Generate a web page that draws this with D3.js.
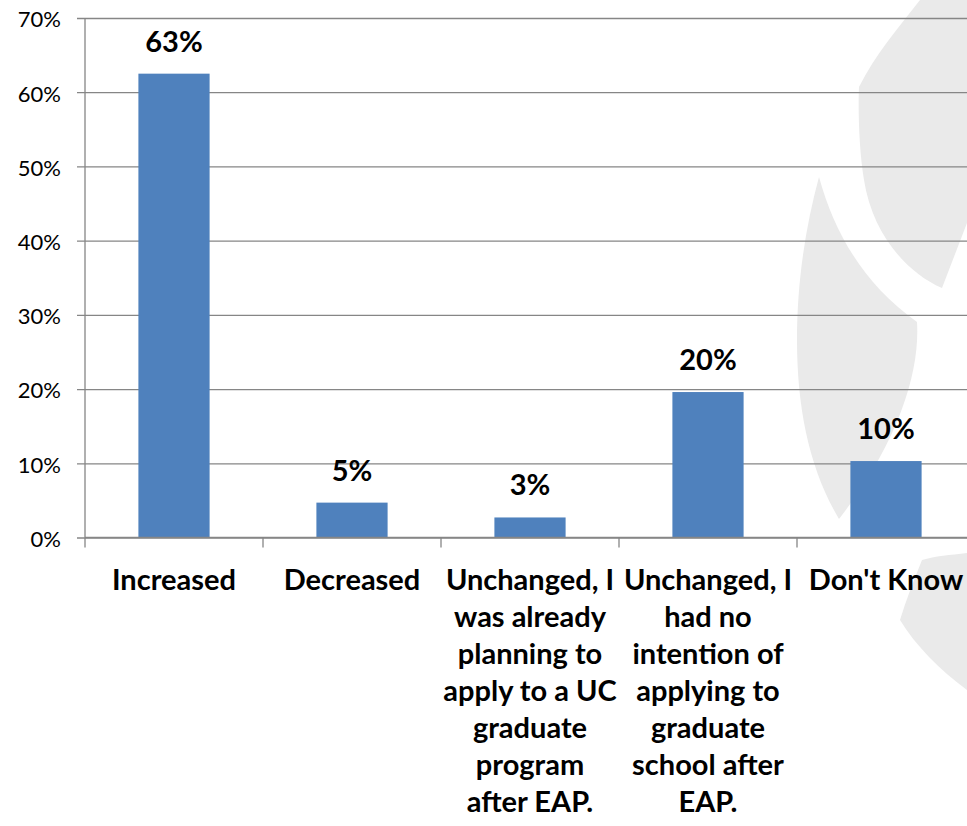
<!DOCTYPE html>
<html>
<head>
<meta charset="utf-8">
<script src="https://cdn.jsdelivr.net/npm/d3@7/dist/d3.min.js"></script>
<style>
  html, body { margin: 0; padding: 0; background: #ffffff; }
  svg { display: block; }
</style>
</head>
<body>
<svg id="chart" width="967" height="826"></svg>
<script>
// ---- data ----
const categories = ["Increased", "Decreased", "Unchanged, I was already planning to apply to a UC graduate program after EAP.", "Unchanged, I had no intention of applying to graduate school after EAP.", "Don't Know"];
const categoryLines = [
  ["Increased"],
  ["Decreased"],
  ["Unchanged, I", "was already", "planning to", "apply to a UC", "graduate", "program", "after EAP."],
  ["Unchanged, I", "had no", "intention of", "applying to", "graduate", "school after", "EAP."],
  ["Don't Know"]
];
const values = [0.625, 0.047, 0.027, 0.196, 0.103];
const valueLabels = ["63%", "5%", "3%", "20%", "10%"];
const yTicks = [0, 0.1, 0.2, 0.3, 0.4, 0.5, 0.6, 0.7];
const yTickLabels = ["0%", "10%", "20%", "30%", "40%", "50%", "60%", "70%"];

(function () {
// ---- layout ----
const svg = d3.select("#chart");
const pLeft = 85, pRight = 975, pTop = 18, pBottom = 537.5;
const x = d3.scaleBand().domain(categories).range([pLeft, pRight]).paddingInner(0.6).paddingOuter(0.3);
const y = d3.scaleLinear().domain([0, 0.7]).range([pBottom, pTop]);
const step = x.step();

// ---- watermark (background decoration) ----
const wm = svg.append("g").attr("fill", "#eaeaea");
wm.append("path").attr("d", "M920,0 L967,0 L967,223 L942,288 C905,272 872,232 864,180 C859,150 858,110 859,87 C875,55 898,28 920,0 Z");
wm.append("path").attr("d", "M819,177 C835,235 865,285 917,322 C920,370 900,440 839,519 C810,470 797,410 797,340 C797,280 806,225 819,177 Z");
wm.append("path").attr("d", "M922,560 C935,556 950,555 967,553 L967,690 C940,670 915,645 900,620 C906,600 914,580 922,560 Z");

// ---- gridlines + y ticks ----
const yAxis = d3.axisLeft(y).tickValues(yTicks).tickSize(-(pRight - pLeft)).tickSizeOuter(0)
  .tickFormat((d, i) => yTickLabels[i]);
const gy = svg.append("g").attr("transform", `translate(${pLeft},0)`).call(yAxis);
gy.select(".domain").remove();
gy.selectAll(".tick line").attr("x1", -8).attr("stroke", "#868686").attr("stroke-width", 1.3);
gy.selectAll(".tick text")
  .attr("x", -24).attr("y", 1).attr("dy", "0.36em")
  .attr("font-family", "Lato").attr("font-size", 22).attr("fill", "#000")
  .attr("text-anchor", "end");

// y axis line
svg.append("line").attr("x1", pLeft).attr("x2", pLeft).attr("y1", y(0.7)).attr("y2", y(0))
  .attr("stroke", "#868686").attr("stroke-width", 1.3);

// ---- bars ----
svg.append("g").selectAll("rect").data(values).join("rect")
  .attr("x", (d, i) => x(categories[i]))
  .attr("width", x.bandwidth())
  .attr("y", d => y(d))
  .attr("height", d => y(0) - y(d))
  .attr("fill", "#4f81bd");

// x axis line and ticks
svg.append("line").attr("x1", pLeft).attr("x2", pRight).attr("y1", y(0)).attr("y2", y(0))
  .attr("stroke", "#868686").attr("stroke-width", 1.3);
const boundaries = d3.range(categories.length + 1).map(i => pLeft + i * step);
svg.append("g").selectAll("line").data(boundaries).join("line")
  .attr("x1", d => d).attr("x2", d => d).attr("y1", y(0)).attr("y2", y(0) + 10)
  .attr("stroke", "#868686").attr("stroke-width", 1.3);

// ---- value labels ----
svg.append("g").selectAll("text").data(values).join("text")
  .attr("x", (d, i) => x(categories[i]) + x.bandwidth() / 2)
  .attr("y", d => y(d) - 22)
  .attr("text-anchor", "middle")
  .attr("font-family", "Lato").attr("font-weight", "bold").attr("font-size", 29)
  .attr("fill", "#000")
  .text((d, i) => valueLabels[i]);

// ---- category labels ----
const cl = svg.append("g").selectAll("text").data(categories).join("text")
  .attr("x", d => x(d) + x.bandwidth() / 2)
  .attr("y", 590)
  .attr("text-anchor", "middle")
  .attr("font-family", "Lato").attr("font-weight", "bold").attr("font-size", 29)
  .attr("fill", "#000");
cl.selectAll("tspan").data((d, i) => categoryLines[i]).join("tspan")
  .attr("x", function () { return d3.select(this.parentNode).attr("x"); })
  .attr("dy", (d, j) => j === 0 ? 0 : 37)
  .text(d => d);
})();
</script>
</body>
</html>
